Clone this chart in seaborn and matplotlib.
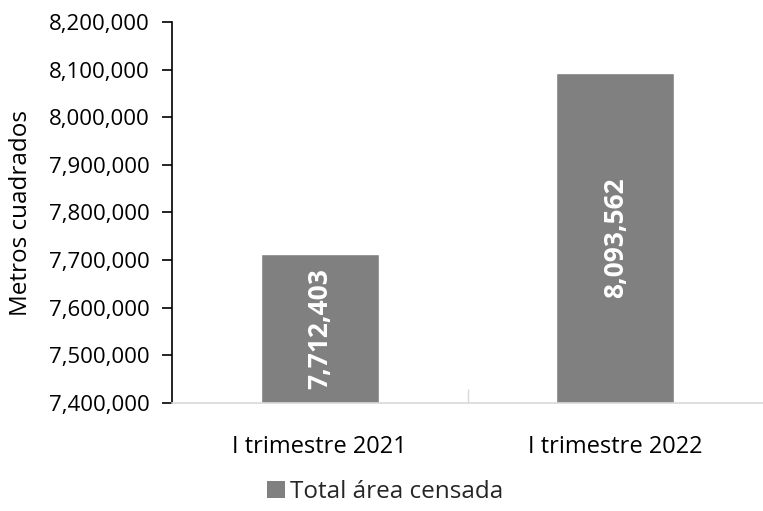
import matplotlib
matplotlib.use("Agg")
import matplotlib.pyplot as plt
import matplotlib.ticker as mticker
from matplotlib.patches import Patch
import seaborn as sns
import pandas as pd

categories = ["I trimestre 2021", "I trimestre 2022"]
values = [7712403, 8093562]
series_name = "Total área censada"
y_label = "Metros cuadrados"
y_ticks = [7400000, 7500000, 7600000, 7700000, 7800000, 7900000, 8000000, 8100000, 8200000]

sns.set_theme(style="white")
plt.rcParams["font.family"] = ["Open Sans", "DejaVu Sans"]

df = pd.DataFrame({"cat": categories, "val": values})

fig = plt.figure(figsize=(7.63, 5.11), dpi=100)
ax = fig.add_axes([172/763, 1-403/511, 1-172/763, (403-22)/511])

sns.barplot(data=df, x="cat", y="val", color="#808080", width=0.4,
            saturation=1, ax=ax, zorder=2)

ax.set_ylim(y_ticks[0], y_ticks[-1])
ax.set_xlim(-0.5, 1.5)
ax.set_yticks(y_ticks)
ax.yaxis.set_major_formatter(mticker.FuncFormatter(lambda v, p: f"{v:,.0f}"))

for c in ax.containers:
    ax.bar_label(c, labels=[f"{v:,.0f}" for v in values], label_type="center",
                 rotation=90, color="white", fontweight="bold", fontsize=19)

for s in ["top", "right"]:
    ax.spines[s].set_visible(False)
ax.spines["left"].set_color("black")
ax.spines["left"].set_linewidth(1.2)
ax.spines["bottom"].set_color("#d9d9d9")
ax.spines["bottom"].set_linewidth(1.2)

ax.tick_params(axis="y", which="major", direction="out", length=7, width=1.2,
               color="black", labelsize=16, labelcolor="black", left=True, pad=9)
ax.tick_params(axis="x", which="major", length=0, labelsize=17, labelcolor="black", pad=23)
ax.xaxis.set_minor_locator(mticker.FixedLocator([0.5]))
ax.tick_params(axis="x", which="minor", direction="in", length=10, width=1.0,
               color="#d9d9d9", bottom=True)

ax.set_xlabel("")
ax.set_ylabel(y_label, fontsize=17.5, color="black")
ax.yaxis.set_label_coords((33 - 172) / 591, 0.5)

handles = [Patch(facecolor="#808080", edgecolor="none", label=series_name)]
fig.legend(handles=handles, loc="center", bbox_to_anchor=(0.505, 1-492/511),
           frameon=False, fontsize=17.5, handlelength=0.75, handleheight=0.75,
           handletextpad=0.2)

fig.savefig("out.png", dpi=100)
